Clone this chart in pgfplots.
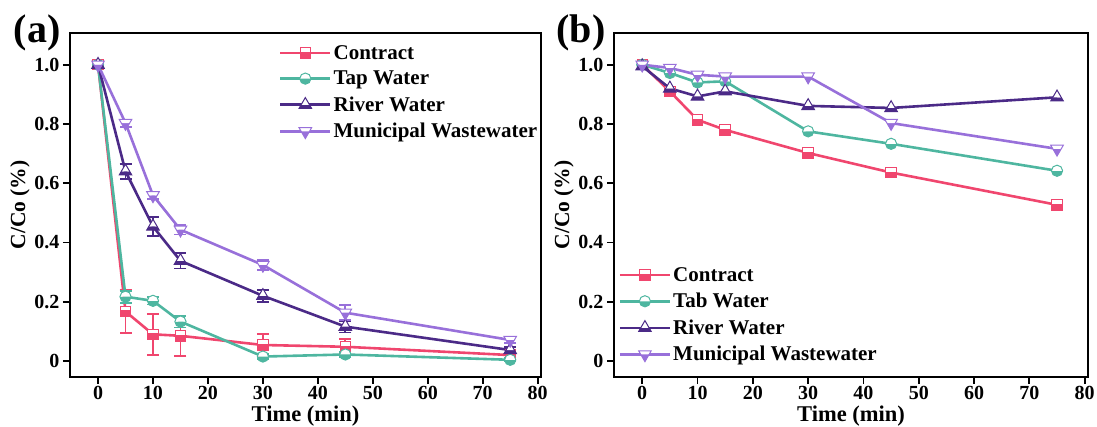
\documentclass[border=0pt]{standalone}
\usepackage{fontspec}
\setmainfont{Liberation Serif}
\usepackage{pgfplots}
\pgfplotsset{compat=1.18}
\definecolor{cred}{RGB}{240,70,110}
\definecolor{cteal}{RGB}{78,182,160}
\definecolor{cdark}{RGB}{75,42,135}
\definecolor{clight}{RGB}{152,112,218}
\newcommand{\tickfont}{\bfseries\fontsize{20}{20}\selectfont}
\newcommand{\labfont}{\bfseries\fontsize{22.5}{22.5}\selectfont}
\newcommand{\ylabfont}{\bfseries\fontsize{21.5}{21.5}\selectfont}
\newcommand{\legfont}{\bfseries\fontsize{21}{21}\selectfont}
\pgfdeclareplotmark{hsq}{%
  \pgfpathrectangle{\pgfqpoint{-\pgfplotmarksize}{-\pgfplotmarksize}}{\pgfqpoint{2\pgfplotmarksize}{1.2\pgfplotmarksize}}%
  \pgfusepathqfill
  \pgfscope\pgfsetfillcolor{white}%
  \pgfpathrectangle{\pgfqpoint{-\pgfplotmarksize}{0.2\pgfplotmarksize}}{\pgfqpoint{2\pgfplotmarksize}{0.8\pgfplotmarksize}}%
  \pgfusepathqfill\endpgfscope
  \pgfpathrectangle{\pgfqpoint{-\pgfplotmarksize}{-\pgfplotmarksize}}{\pgfqpoint{2\pgfplotmarksize}{2\pgfplotmarksize}}%
  \pgfusepathqstroke}
\pgfdeclareplotmark{hcirc}{%
  \pgfpathmoveto{\pgfqpoint{-\pgfplotmarksize}{0pt}}%
  \pgfpatharc{180}{360}{\pgfplotmarksize}\pgfpathclose
  \pgfusepathqfill
  \pgfscope\pgfsetfillcolor{white}%
  \pgfpathmoveto{\pgfqpoint{\pgfplotmarksize}{0pt}}%
  \pgfpatharc{0}{180}{\pgfplotmarksize}\pgfpathclose
  \pgfusepathqfill\endpgfscope
  \pgfpathcircle{\pgfpointorigin}{\pgfplotmarksize}%
  \pgfusepathqstroke}
\pgfdeclareplotmark{htriu}{%
  \pgfpathmoveto{\pgfqpoint{-1.0825\pgfplotmarksize}{-0.625\pgfplotmarksize}}%
  \pgfpathlineto{\pgfqpoint{1.0825\pgfplotmarksize}{-0.625\pgfplotmarksize}}%
  \pgfpathlineto{\pgfqpoint{0.7217\pgfplotmarksize}{0pt}}%
  \pgfpathlineto{\pgfqpoint{-0.7217\pgfplotmarksize}{0pt}}\pgfpathclose
  \pgfusepathqfill
  \pgfscope\pgfsetfillcolor{white}%
  \pgfpathmoveto{\pgfqpoint{0pt}{1.25\pgfplotmarksize}}%
  \pgfpathlineto{\pgfqpoint{0.7217\pgfplotmarksize}{0pt}}%
  \pgfpathlineto{\pgfqpoint{-0.7217\pgfplotmarksize}{0pt}}\pgfpathclose
  \pgfusepathqfill\endpgfscope
  \pgfpathmoveto{\pgfqpoint{0pt}{1.25\pgfplotmarksize}}%
  \pgfpathlineto{\pgfqpoint{1.0825\pgfplotmarksize}{-0.625\pgfplotmarksize}}%
  \pgfpathlineto{\pgfqpoint{-1.0825\pgfplotmarksize}{-0.625\pgfplotmarksize}}\pgfpathclose
  \pgfusepathqstroke}
\pgfdeclareplotmark{htrid}{%
  \pgfpathmoveto{\pgfqpoint{0pt}{-1.25\pgfplotmarksize}}%
  \pgfpathlineto{\pgfqpoint{0.7217\pgfplotmarksize}{0pt}}%
  \pgfpathlineto{\pgfqpoint{-0.7217\pgfplotmarksize}{0pt}}\pgfpathclose
  \pgfusepathqfill
  \pgfscope\pgfsetfillcolor{white}%
  \pgfpathmoveto{\pgfqpoint{-1.0825\pgfplotmarksize}{0.625\pgfplotmarksize}}%
  \pgfpathlineto{\pgfqpoint{1.0825\pgfplotmarksize}{0.625\pgfplotmarksize}}%
  \pgfpathlineto{\pgfqpoint{0.7217\pgfplotmarksize}{0pt}}%
  \pgfpathlineto{\pgfqpoint{-0.7217\pgfplotmarksize}{0pt}}\pgfpathclose
  \pgfusepathqfill\endpgfscope
  \pgfpathmoveto{\pgfqpoint{0pt}{-1.25\pgfplotmarksize}}%
  \pgfpathlineto{\pgfqpoint{1.0825\pgfplotmarksize}{0.625\pgfplotmarksize}}%
  \pgfpathlineto{\pgfqpoint{-1.0825\pgfplotmarksize}{0.625\pgfplotmarksize}}\pgfpathclose
  \pgfusepathqstroke}
\pgfplotsset{
  myax/.style={
    scale only axis, height=344pt,
    xmin=-5.1, xmax=80.6, ymin=-0.054, ymax=1.107,
    xtick={0,10,...,80}, ytick={0,0.2,0.4,0.6,0.8,1.0},
    yticklabels={0,0.2,0.4,0.6,0.8,1.0},
    xticklabels={0,10,20,30,40,50,60,70,80},
    tick align=outside, xtick pos=bottom, ytick pos=left,
    major tick length=7pt,
    axis line style={line width=2pt},
    every tick/.style={line width=1.8pt, black},
    ticklabel style={font=\tickfont},
    xticklabel style={yshift=1pt},
    xlabel={Time (min)}, ylabel={C/Co (\%)},
    xlabel style={font=\labfont, yshift=1.5pt},
    ylabel style={font=\ylabfont, yshift=-2pt},
    legend cell align=left,
    legend style={draw=none, fill=none, font=\legfont, row sep=6.5pt},
    legend image code/.code={\draw[mark repeat=2,mark phase=2] plot coordinates {(0pt,0pt) (25pt,0pt) (50pt,0pt)};},
  },
  sred/.style={color=cred, line width=2.6pt, mark=hsq, mark size=5.2pt, mark options={line width=1pt, fill=cred, draw=cred}},
  steal/.style={color=cteal, line width=2.6pt, mark=hcirc, mark size=5.6pt, mark options={line width=1pt, fill=cteal, draw=cteal}},
  sdark/.style={color=cdark, line width=2.6pt, mark=htriu, mark size=5.8pt, mark options={line width=1pt, fill=cdark, draw=cdark}},
  slight/.style={color=clight, line width=2.6pt, mark=htrid, mark size=5.8pt, mark options={line width=1pt, fill=clight, draw=clight}},
  ebar/.style={error bars/.cd, y dir=both, y explicit, error bar style={line width=1.8pt}, error mark options={rotate=90, mark size=6pt, line width=1.8pt}},
}
\begin{document}
\begin{tikzpicture}
\useasboundingbox (0pt,0pt) rectangle (1097pt,-427pt);
\begin{axis}[myax, width=471pt, at={(70pt,-377pt)}, anchor=south west,
  legend style={at={(axis description cs:0.437,0.977)}, anchor=north west}]
\addplot+[sred, ebar] table[x=x, y=y, y error=e] {
x y e
0 1.0 0
5 0.167 0.073
10 0.090 0.069
15 0.085 0.067
30 0.054 0.036
45 0.048 0.025
75 0.020 0.008
};
\addlegendentry{Contract}
\addplot+[steal, ebar] table[x=x, y=y, y error=e] {
x y e
0 1.0 0
5 0.217 0.020
10 0.203 0.012
15 0.133 0.020
30 0.015 0.008
45 0.022 0.008
75 0.004 0.005
};
\addlegendentry{Tap Water}
\addplot+[sdark, ebar] table[x=x, y=y, y error=e] {
x y e
0 1.0 0.005
5 0.640 0.025
10 0.454 0.032
15 0.338 0.026
30 0.220 0.020
45 0.116 0.020
75 0.037 0.010
};
\addlegendentry{River Water}
\addplot+[slight, ebar] table[x=x, y=y, y error=e] {
x y e
0 1.0 0.005
5 0.803 0.012
10 0.559 0.012
15 0.443 0.016
30 0.324 0.016
45 0.163 0.025
75 0.071 0.010
};
\addlegendentry{Municipal Wastewater}
\end{axis}
\node[font=\bfseries\fontsize{40}{40}\selectfont] at (37pt,-33pt) {(a)};
\begin{axis}[myax, width=474pt, at={(614pt,-377pt)}, anchor=south west,
  legend style={at={(axis description cs:0.003,0.331)}, anchor=north west}]
\addplot+[sred] table[x=x, y=y] {
x y
0 1.0
5 0.910
10 0.814
15 0.780
30 0.702
45 0.636
75 0.527
};
\addlegendentry{Contract}
\addplot+[steal] table[x=x, y=y] {
x y
0 1.0
5 0.972
10 0.940
15 0.944
30 0.775
45 0.733
75 0.642
};
\addlegendentry{Tab Water}
\addplot+[sdark] table[x=x, y=y] {
x y
0 0.995
5 0.920
10 0.893
15 0.910
30 0.861
45 0.854
75 0.890
};
\addlegendentry{River Water}
\addplot+[slight] table[x=x, y=y] {
x y
0 1.0
5 0.989
10 0.966
15 0.960
30 0.960
45 0.803
75 0.716
};
\addlegendentry{Municipal Wastewater}
\end{axis}
\node[font=\bfseries\fontsize{40}{40}\selectfont] at (581pt,-33pt) {(b)};
\end{tikzpicture}
\end{document}
